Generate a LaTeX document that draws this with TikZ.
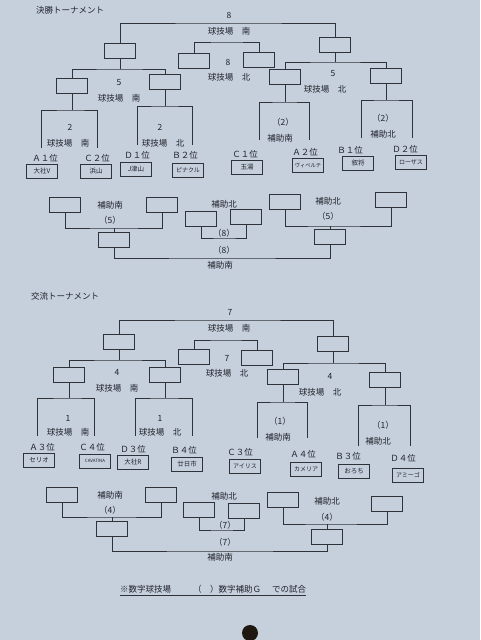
\documentclass[tikz,border=0pt]{standalone}
\usepackage{fontspec}
\setmainfont{Noto Sans CJK JP}
\definecolor{bgc}{RGB}{198,208,221}
\definecolor{linec}{RGB}{48,50,58}
\definecolor{txtc}{RGB}{32,34,42}
\definecolor{holec}{RGB}{30,24,16}
\tikzset{
  slot/.style={draw=linec, line width=0.9pt, minimum width=31pt, minimum height=15pt, inner sep=0pt},
  team/.style={draw=linec, line width=0.9pt, minimum width=31pt, minimum height=14pt, inner sep=0pt, text=txtc, font=\fontsize{6.5}{7}\selectfont},
  lbl/.style={font=\fontsize{8.5}{9}\selectfont, text=txtc, inner sep=0pt},
  ln/.style={draw=linec, line width=0.9pt}
}
\begin{document}
\begin{tikzpicture}[x=1pt,y=-1pt]
\fill[bgc] (0,0) rectangle (480,640);
\useasboundingbox (0,0) rectangle (480,640);

% ===================== 決勝トーナメント =====================
\node[lbl] (title1) at (70,10) {決勝トーナメント};

\node[lbl] (n8a) at (229,15) {8};
\node[lbl] (f8a) at (229,31) {球技場　南};
\node[slot] (T1) at (120,51) {};
\node[slot] (T2) at (335,45) {};
\coordinate (jT) at (229,23);
\draw[ln] (T1.north) |- (jT) -| (T2.north);

\node[slot] (M1) at (194,61) {};
\node[slot] (M2) at (259,60) {};
\coordinate (jM) at (227,42);
\draw[ln] (M1.north) |- (jM) -| (M2.north);
\node[lbl] (n8b) at (228,62) {8};
\node[lbl] (f8b) at (229,77) {球技場　北};

\node[slot] (L1) at (72,86) {};
\node[slot] (L2) at (165,82) {};
\coordinate (jL) at (120,69);
\draw[ln] (T1.south) -- (jL);
\draw[ln] (L1.north) |- (jL) -| (L2.north);
\node[lbl] (n5a) at (119,83) {5};
\node[lbl] (f5a) at (119,98) {球技場　南};

\node[slot] (R1) at (285,77) {};
\node[slot] (R2) at (386,76) {};
\coordinate (jR) at (335,62);
\draw[ln] (T2.south) -- (jR);
\draw[ln] (R1.north) |- (jR) -| (R2.north);
\node[lbl] (n5b) at (333,74) {5};
\node[lbl] (f5b) at (325,89) {球技場　北};

% brackets
\coordinate (bL1) at (72,110);
\draw[ln] (L1.south) -- (bL1);
\draw[ln] (41,148) |- (bL1) -| (97,148);
\node[lbl] (g1) at (70,127) {2};
\node[lbl] (g2) at (68,143) {球技場　南};

\coordinate (bL2) at (165,106);
\draw[ln] (L2.south) -- (bL2);
\draw[ln] (137,145) |- (bL2) -| (192,145);
\node[lbl] (g3) at (160,127) {2};
\node[lbl] (g4) at (163,143) {球技場　北};

\coordinate (bR1) at (285,102);
\draw[ln] (R1.south) -- (bR1);
\draw[ln] (259,140) |- (bR1) -| (309,140);
\node[lbl] (g5) at (283,122) {（2）};
\node[lbl] (g6) at (280,138) {補助南};

\coordinate (bR2) at (386,100);
\draw[ln] (R2.south) -- (bR2);
\draw[ln] (361,138) |- (bR2) -| (412,138);
\node[lbl] (g7) at (383,118) {（2）};
\node[lbl] (g8) at (383,134) {補助北};

% teams
\node[lbl] (pA1) at (45,158) {Ａ１位};
\node[team] (A1) at (42,171) {大社V};
\node[lbl] (pC2) at (97,158) {Ｃ２位};
\node[team] (C2) at (96,171) {浜山};
\node[lbl] (pD1) at (137,155) {Ｄ１位};
\node[team] (D1) at (136,169) {J津山};
\node[lbl] (pB2) at (185,155) {Ｂ２位};
\node[team,font=\fontsize{6}{7}\selectfont] (B2) at (188,170) {ピナクル};
\node[lbl] (pC1) at (245,154) {Ｃ１位};
\node[team] (C1) at (247,167) {玉湯};
\node[lbl] (pA2) at (305,152) {Ａ２位};
\node[team,font=\fontsize{5.3}{6}\selectfont] (A2) at (308,165) {ヴィベルテ};
\node[lbl] (pB1) at (350,150) {Ｂ１位};
\node[team] (B1) at (358,163) {叙将};
\node[lbl] (pD2) at (405,149) {Ｄ２位};
\node[team,font=\fontsize{6}{7}\selectfont] (D2) at (411,162) {ローザス};

% consolation
\node[slot] (BL1) at (65,205) {};
\node[slot] (BL2) at (162,205) {};
\node[slot] (BL3) at (114,240) {};
\coordinate (jBL) at (114,228);
\draw[ln] (BL1.south) |- (jBL) -| (BL2.south);
\draw[ln] (BL3.north) -- (jBL);
\node[lbl] (h1) at (110,205) {補助南};
\node[lbl] (h2) at (110,220) {（5）};

\node[slot] (BC1) at (201,219) {};
\node[slot] (BC2) at (246,217) {};
\coordinate (jBC) at (225,238);
\draw[ln] (BC1.south) |- (jBC) -| (BC2.south);
\node[lbl] (h3) at (224,204) {補助北};
\node[lbl] (h4) at (224,233) {（8）};

\node[slot] (BR1) at (285,202) {};
\node[slot] (BR2) at (391,200) {};
\node[slot] (BR3) at (330,237) {};
\coordinate (jBR) at (330,226);
\draw[ln] (BR1.south) |- (jBR) -| (BR2.south);
\draw[ln] (BR3.north) -- (jBR);
\node[lbl] (h5) at (328,201) {補助北};
\node[lbl] (h6) at (328,216) {（5）};

\coordinate (jBF) at (222,258);
\draw[ln] (BL3.south) |- (jBF) -| (BR3.south);
\node[lbl] (h7) at (224,250) {（8）};
\node[lbl] (h8) at (220,265) {補助南};

% ===================== 交流トーナメント =====================
\node[lbl] (title2) at (65,296) {交流トーナメント};

\node[lbl] (n7a) at (230,312) {7};
\node[lbl] (f7a) at (229,328) {球技場　南};
\node[slot] (U1) at (119,342) {};
\node[slot] (U2) at (333,344) {};
\coordinate (jU) at (229,320);
\draw[ln] (U1.north) |- (jU) -| (U2.north);

\node[slot] (UM1) at (194,357) {};
\node[slot] (UM2) at (257,358) {};
\coordinate (jUM) at (226,340);
\draw[ln] (UM1.north) |- (jUM) -| (UM2.north);
\node[lbl] (n7b) at (227,358) {7};
\node[lbl] (f7b) at (227,373) {球技場　北};

\node[slot] (UL1) at (69,375) {};
\node[slot] (UL2) at (165,375) {};
\coordinate (jUL) at (119,360);
\draw[ln] (U1.south) -- (jUL);
\draw[ln] (UL1.north) |- (jUL) -| (UL2.north);
\node[lbl] (n4a) at (117,372) {4};
\node[lbl] (f4a) at (117,388) {球技場　南};

\node[slot] (UR1) at (283,377) {};
\node[slot] (UR2) at (385,380) {};
\coordinate (jUR) at (333,363);
\draw[ln] (U2.south) -- (jUR);
\draw[ln] (UR1.north) |- (jUR) -| (UR2.north);
\node[lbl] (n4b) at (330,376) {4};
\node[lbl] (f4b) at (320,392) {球技場　北};

% brackets
\coordinate (cL1) at (69,398);
\draw[ln] (UL1.south) -- (cL1);
\draw[ln] (37,436) |- (cL1) -| (94,436);
\node[lbl] (k1) at (68,418) {1};
\node[lbl] (k2) at (68,432) {球技場　南};

\coordinate (cL2) at (165,398);
\draw[ln] (UL2.south) -- (cL2);
\draw[ln] (135,436) |- (cL2) -| (192,436);
\node[lbl] (k3) at (160,418) {1};
\node[lbl] (k4) at (160,432) {球技場　北};

\coordinate (cR1) at (283,402);
\draw[ln] (UR1.south) -- (cR1);
\draw[ln] (257,438) |- (cR1) -| (307,438);
\node[lbl] (k5) at (280,421) {（1）};
\node[lbl] (k6) at (278,437) {補助南};

\coordinate (cR2) at (385,405);
\draw[ln] (UR2.south) -- (cR2);
\draw[ln] (358,446) |- (cR2) -| (410,446);
\node[lbl] (k7) at (383,425) {（1）};
\node[lbl] (k8) at (378,441) {補助北};

% teams
\node[lbl] (pA3) at (42,447) {Ａ３位};
\node[team] (A3) at (39,460) {セリオ};
\node[lbl] (pC4) at (92,447) {Ｃ４位};
\node[team,font=\fontsize{4.4}{5}\selectfont] (C4) at (95,461) {CAVATINA};
\node[lbl] (pD3) at (133,449) {Ｄ３位};
\node[team] (D3) at (133,462) {大社R};
\node[lbl] (pB4) at (184,450) {Ｂ４位};
\node[team] (B4) at (187,464) {廿日市};
\node[lbl] (pC3) at (240,452) {Ｃ３位};
\node[team,font=\fontsize{6}{7}\selectfont] (C3) at (245,466) {アイリス};
\node[lbl] (pA4) at (303,454) {Ａ４位};
\node[team,font=\fontsize{6}{7}\selectfont] (A4) at (306,469) {カメリア};
\node[lbl] (pB3) at (348,456) {Ｂ３位};
\node[team] (B3) at (354,471) {おろち};
\node[lbl] (pD4) at (403,458) {Ｄ４位};
\node[team,font=\fontsize{6}{7}\selectfont] (D4) at (408,475) {アミーゴ};

% consolation
\node[slot] (VL1) at (62,495) {};
\node[slot] (VL2) at (161,495) {};
\node[slot] (VL3) at (112,529) {};
\coordinate (jVL) at (112,517);
\draw[ln] (VL1.south) |- (jVL) -| (VL2.south);
\draw[ln] (VL3.north) -- (jVL);
\node[lbl] (m1) at (110,495) {補助南};
\node[lbl] (m2) at (110,510) {（4）};

\node[slot] (VC1) at (199,510) {};
\node[slot] (VC2) at (244,511) {};
\coordinate (jVC) at (222,530);
\draw[ln] (VC1.south) |- (jVC) -| (VC2.south);
\node[lbl] (m3) at (224,496) {補助北};
\node[lbl] (m4) at (225,525) {（7）};

\node[slot] (VR1) at (283,500) {};
\node[slot] (VR2) at (387,504) {};
\node[slot] (VR3) at (327,537) {};
\coordinate (jVR) at (327,524);
\draw[ln] (VR1.south) |- (jVR) -| (VR2.south);
\draw[ln] (VR3.north) -- (jVR);
\node[lbl] (m5) at (327,501) {補助北};
\node[lbl] (m6) at (327,517) {（4）};

\coordinate (jVF) at (220,551);
\draw[ln] (VL3.south) |- (jVF) -| (VR3.south);
\node[lbl] (m7) at (225,542) {（7）};
\node[lbl] (m8) at (220,557) {補助南};

% footer
\node[lbl,anchor=base west] (foot) at (120,592) {※数字球技場\hspace{22pt}（　）数字補助Ｇ\hspace{11pt}での試合};
\draw[ln,line width=0.7pt] ([yshift=-3pt]foot.base west) -- ([yshift=-3pt]foot.base east);

% punch hole
\fill[holec] (250,633) circle (8);
\end{tikzpicture}
\end{document}
